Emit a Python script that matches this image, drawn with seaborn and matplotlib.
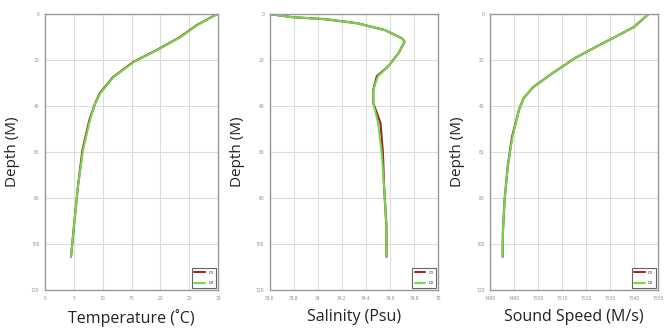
import matplotlib
matplotlib.use("Agg")
import matplotlib.pyplot as plt
import seaborn as sns
import pandas as pd

sns.set_theme(style="whitegrid")
plt.rcParams['font.family'] = ['Open Sans', 'DejaVu Sans']

# ---- data ----
temp_depth = [0, 4.8, 10, 15.6, 20.8, 27.4, 34.4, 38.7, 46, 59, 75, 92.6, 105.6]
temp_d1 = [29.8, 26.3, 23.4, 19.4, 15.3, 11.8, 9.5, 8.7, 7.7, 6.5, 5.7, 5.0, 4.5]
temp_d2 = [29.8, 26.4, 23.5, 19.5, 15.4, 11.9, 9.6, 8.7, 7.8, 6.6, 5.7, 5.0, 4.5]

sal_depth = [0, 1.3, 2.2, 4, 7, 10.6, 12, 17, 23, 27, 33, 38.7, 47.4, 60.4, 75, 92.6, 105.6]
sal_d1 = [33.60, 33.78, 34.06, 34.33, 34.56, 34.70, 34.72, 34.67, 34.58, 34.49, 34.46, 34.46, 34.52, 34.54, 34.55, 34.57, 34.57]
sal_d2 = [33.60, 33.78, 34.06, 34.33, 34.56, 34.70, 34.72, 34.67, 34.58, 34.50, 34.46, 34.46, 34.50, 34.53, 34.55, 34.57, 34.57]

ss_depth = [0, 5.6, 10, 14.3, 19, 25.7, 31.7, 36.5, 41.7, 53.5, 66.5, 81, 95, 105.6]
ss_d1 = [1546, 1540, 1532, 1524, 1515.6, 1506, 1498, 1494, 1492, 1489.1, 1487.3, 1486, 1485.3, 1485.2]
ss_d2 = [1546, 1540, 1532, 1524, 1515.6, 1506, 1498, 1494, 1492, 1489.3, 1487.3, 1486, 1485.3, 1485.2]

series_names = ["D1", "D2"]
depth_ticks = [0, 20, 40, 60, 80, 100, 120]
temp_ticks = [0, 5, 10, 15, 20, 25, 30]
sal_ticks = [33.6, 33.8, 34, 34.2, 34.4, 34.6, 34.8, 35]
ss_ticks = [1480, 1490, 1500, 1510, 1520, 1530, 1540, 1550]

panels = [
    ("Temperature (˚C)", temp_depth, temp_d1, temp_d2, temp_ticks, [0.0676, 0.116, 0.260, 0.841]),
    ("Salinity (Psu)", sal_depth, sal_d1, sal_d2, sal_ticks, [0.405, 0.116, 0.253, 0.841]),
    ("Sound Speed (M/s)", ss_depth, ss_d1, ss_d2, ss_ticks, [0.736, 0.116, 0.252, 0.841]),
]

colors = {"D1": "#9b2a2a", "D2": "#6fdc4a"}

fig = plt.figure(figsize=(6.66, 3.28), dpi=100)

for xlabel, depth, v1, v2, xticks, rect in panels:
    ax = fig.add_axes(rect)
    df = pd.concat([
        pd.DataFrame({"depth": depth, "value": v1, "series": series_names[0]}),
        pd.DataFrame({"depth": depth, "value": v2, "series": series_names[1]}),
    ])
    sns.lineplot(data=df, x="value", y="depth", hue="series", palette=colors,
                 sort=False, estimator=None, linewidth=1.5, ax=ax, legend=True)
    for line, lw in zip(ax.get_lines(), [1.6, 1.4]):
        line.set_linewidth(lw)
    ax.set_xlim(xticks[0], xticks[-1])
    ax.set_ylim(120, 0)
    ax.set_xticks(xticks)
    ax.set_yticks(depth_ticks)
    ax.set_xticklabels([f"{t:g}" for t in xticks])
    ax.tick_params(axis="both", labelsize=3.5, colors="#888888", length=2, pad=2)
    ax.grid(True, color="#dddddd", linewidth=0.8)
    ax.set_facecolor("white")
    for name, sp in ax.spines.items():
        sp.set_color("#999999")
        sp.set_linewidth(1.0)
    ax.set_xlabel(xlabel, fontsize=11.5, color="#222222", labelpad=6)
    ax.set_ylabel("Depth (M)", fontsize=11, color="#222222", labelpad=8)
    leg = ax.legend(loc="lower right", fontsize=3, handlelength=2.5, frameon=True,
                    borderpad=0.6, labelspacing=1.6, framealpha=1)
    leg.get_frame().set_edgecolor("#666666")
    leg.get_frame().set_linewidth(0.8)
    leg.get_frame().set_boxstyle("square", pad=0)

fig.savefig("out.png", dpi=100)
